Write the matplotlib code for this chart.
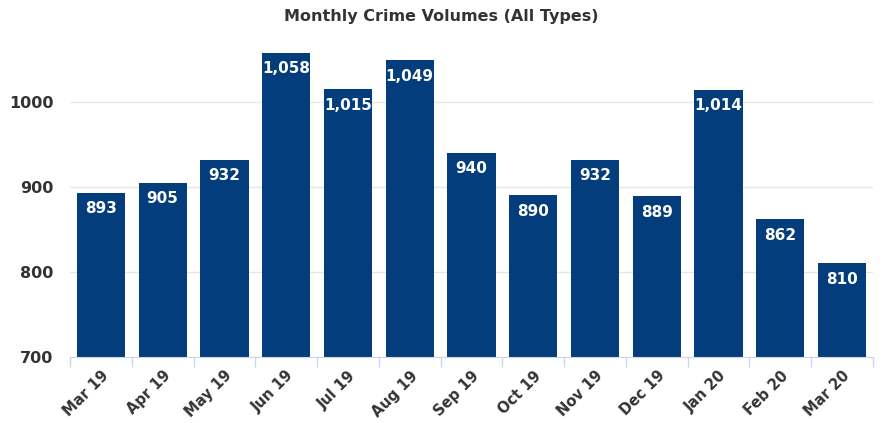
import numpy as np
import matplotlib
matplotlib.use('Agg')
import matplotlib.pyplot as plt

plt.rcParams['font.family'] = ['DejaVu Sans']

# data
months = ['Mar 19', 'Apr 19', 'May 19', 'Jun 19', 'Jul 19', 'Aug 19', 'Sep 19',
          'Oct 19', 'Nov 19', 'Dec 19', 'Jan 20', 'Feb 20', 'Mar 20']
volumes = [893, 905, 932, 1058, 1015, 1049, 940, 890, 932, 889, 1014, 862, 810]
y_ticks = [700, 800, 900, 1000]

bar_colour = '#033d7c'
text_colour = '#333333'

fig = plt.figure(figsize=(8.82, 4.23), dpi=100)
ax = fig.add_axes([0.0794, 0.156, 0.9104, 0.754])

x = np.arange(len(months))
bars = ax.bar(x, volumes, width=0.78, color=bar_colour, zorder=3)

# value labels inside the top of each bar
for b, v in zip(bars, volumes):
    ax.annotate(f'{v:,}', (b.get_x() + b.get_width() / 2, v),
                xytext=(0, -16), textcoords='offset pixels',
                ha='center', va='center', color='white', fontsize=11,
                fontweight='bold', zorder=4)

ax.set_xlim(-0.5, len(months) - 0.5)
ax.set_ylim(700, 1075)
ax.set_yticks(y_ticks)
ax.set_yticklabels([str(t) for t in y_ticks], fontsize=11.5, fontweight='bold', color=text_colour)
ax.yaxis.grid(True, color='#e6e6e6', linewidth=1, zorder=0)
ax.tick_params(axis='y', length=0, pad=12)

# category labels, with tick marks between categories
ax.set_xticks(x)
ax.set_xticklabels(months, rotation=45, ha='right', rotation_mode='anchor',
                   fontsize=10.5, fontweight='bold', color=text_colour)
ax.tick_params(axis='x', length=0, pad=8)
ax.set_xticks(np.arange(len(months) + 1) - 0.5, minor=True)
ax.tick_params(axis='x', which='minor', length=7, color='#ccd6eb', width=1)

for s in ['top', 'right', 'left']:
    ax.spines[s].set_visible(False)
ax.spines['bottom'].set_color('#ccd6eb')
ax.spines['bottom'].set_zorder(5)

fig.text(0.5, 0.96, 'Monthly Crime Volumes (All Types)', ha='center', va='center',
         fontsize=11.5, fontweight='bold', color=text_colour)

fig.savefig('out.png', dpi=100)
